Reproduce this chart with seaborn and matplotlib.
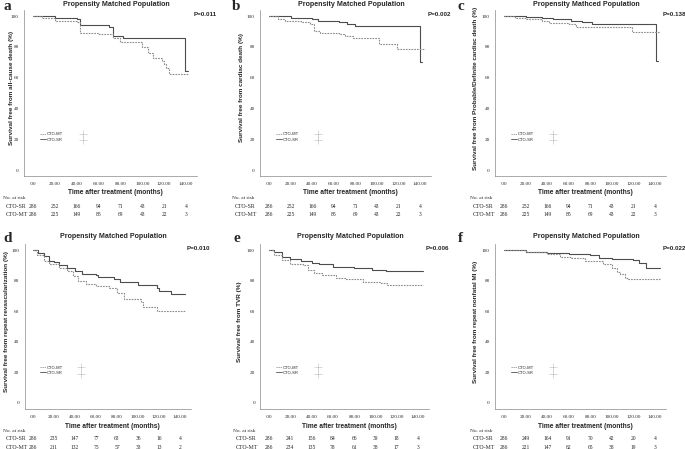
"""Kaplan-Meier panels (a-f) for CTO-SR vs CTO-MT, propensity matched population."""

import matplotlib

matplotlib.use("Agg")
import matplotlib.pyplot as plt
import matplotlib.transforms as mtransforms
from matplotlib.lines import Line2D
import pandas as pd
import seaborn as sns


MONTH_TICKS = [0, 20, 40, 60, 80, 100, 120, 140]
MONTH_LABELS = [".00", "20.00", "40.00", "60.00", "80.00", "100.00", "120.00", "140.00"]
SURV_TICKS = [0, 20, 40, 60, 80, 100]
GROUPS = ["CTO-SR", "CTO-MT"]

# step points (months, survival %)
A_SR_TIME = [0, 20, 40, 43, 70, 73, 82, 139, 142]
A_SR_SURV = [100, 99, 98, 94.3, 93, 87, 85.6, 64.3, 64.3]
A_MT_TIME = [0, 8, 20, 40, 43, 60, 73, 80, 100, 105, 110, 118, 120, 122, 124, 143]
A_MT_SURV = [100, 98.5, 97, 96, 89, 88, 86, 83, 80, 76, 73, 71, 69, 66, 62.4, 62.4]

B_SR_TIME = [0, 20, 40, 45, 65, 72, 80, 140, 142]
B_SR_SURV = [100, 99, 98, 97, 96, 95, 93.5, 70, 70]
B_MT_TIME = [0, 8, 15, 30, 38, 42, 47, 65, 70, 78, 102, 119, 145]
B_MT_SURV = [100, 98, 97, 96, 95, 90, 89, 88.5, 87, 86, 82, 78.5, 78.5]

C_SR_TIME = [0, 20, 35, 45, 62, 72, 82, 141, 143]
C_SR_SURV = [100, 99.5, 99, 98, 97, 96, 94.6, 70.5, 70.5]
C_MT_TIME = [0, 10, 20, 35, 42, 60, 67, 119, 145]
C_MT_SURV = [100, 99, 98, 96.5, 95.7, 95, 92.8, 89.4, 89.4]

D_SR_TIME = [0, 5, 10, 15, 20, 25, 32, 40, 47, 60, 62, 77, 83, 100, 118, 120, 131, 145]
D_SR_SURV = [100, 98, 96, 93, 92, 90, 88, 86, 84, 83.5, 82.5, 81, 79, 77, 75, 73.5, 71, 71]
D_MT_TIME = [0, 4, 10, 15, 25, 32, 38, 43, 50, 60, 72, 80, 87, 103, 105, 118, 145]
D_MT_SURV = [100, 97, 93, 91, 88, 86, 83, 80, 78, 76.5, 75, 72, 68, 66, 62.6, 60, 60]

E_SR_TIME = [0, 5, 12, 20, 30, 40, 47, 60, 80, 97, 110, 145]
E_SR_SURV = [100, 98.5, 95.6, 94, 92.5, 91.5, 90.7, 89.1, 88, 87, 86.1, 86.1]
E_MT_TIME = [0, 5, 12, 20, 32, 37, 42, 50, 63, 72, 88, 105, 111, 145]
E_MT_SURV = [100, 97, 93.5, 91, 90, 87, 85.2, 83.7, 82, 80.9, 78.9, 78.5, 77, 77]

F_SR_TIME = [0, 20, 40, 60, 80, 88, 100, 120, 125, 132, 145]
F_SR_SURV = [100, 99, 98, 97.5, 96.5, 95, 94.1, 93.3, 91.5, 88, 88]
F_MT_TIME = [0, 20, 40, 52, 62, 75, 92, 100, 105, 108, 112, 115, 145]
F_MT_SURV = [100, 98.5, 97.5, 95.4, 95, 93, 90.9, 88, 85.9, 84.1, 82, 81.1, 81.1]

# numbers at risk at each x tick
ABC_RISK_SR = [286, 252, 166, 94, 71, 43, 21, 4]
ABC_RISK_MT = [286, 225, 149, 85, 69, 43, 22, 3]
D_RISK_SR = [286, 235, 147, 77, 63, 36, 16, 4]
D_RISK_MT = [286, 211, 132, 75, 57, 33, 13, 2]
E_RISK_SR = [286, 241, 156, 84, 66, 39, 18, 4]
E_RISK_MT = [286, 234, 135, 78, 61, 38, 17, 3]
F_RISK_SR = [286, 249, 164, 91, 70, 42, 20, 4]
F_RISK_MT = [286, 221, 147, 82, 65, 38, 19, 3]

LETTERS = ["a", "b", "c", "d", "e", "f"]
TITLES = ["Propensity Matched Population"] * 2 + ["Propensity Mathced Population"] + ["Propensity Matched Population"] * 3
P_VALUES = ["P=0.011", "P=0.002", "P=0.138", "P=0.010", "P=0.006", "P=0.022"]
Y_LABELS = [
    "Survival free from all-cause death (%)",
    "Survival free from cardiac death (%)",
    "Survival free from Probable/Definite cardiac death (%)",
    "Survival free from repeat revascularization (%)",
    "Survival free from TVR (%)",
    "Survival free from repeat nonfatal MI (%)",
]
CURVES = [
    (A_SR_TIME, A_SR_SURV, A_MT_TIME, A_MT_SURV),
    (B_SR_TIME, B_SR_SURV, B_MT_TIME, B_MT_SURV),
    (C_SR_TIME, C_SR_SURV, C_MT_TIME, C_MT_SURV),
    (D_SR_TIME, D_SR_SURV, D_MT_TIME, D_MT_SURV),
    (E_SR_TIME, E_SR_SURV, E_MT_TIME, E_MT_SURV),
    (F_SR_TIME, F_SR_SURV, F_MT_TIME, F_MT_SURV),
]
RISKS = [
    (ABC_RISK_SR, ABC_RISK_MT),
    (ABC_RISK_SR, ABC_RISK_MT),
    (ABC_RISK_SR, ABC_RISK_MT),
    (D_RISK_SR, D_RISK_MT),
    (E_RISK_SR, E_RISK_MT),
    (F_RISK_SR, F_RISK_MT),
]

# layout in pixels: x of .00, x of 140, y of 100, y of 0,
# letter x, risk-table x, y-label x
LAYOUT = [
    (33, 186, 16, 170, 3, 3, 12),
    (269, 420, 16, 170, 232, 232, 241),
    (504, 655, 16, 170, 457, 470, 476),
    (33, 180, 250, 403, 3, 3, 7),
    (269, 418, 250, 403, 233, 233, 240),
    (504, 655, 250, 403, 458, 470, 476),
]
W, H = 685, 449
XMIN, XMAX = -8, 150
YMIN, YMAX = -4, 104
SR_COLOR = "#4d4d4d"
MT_COLOR = "#8c8c8c"
SANS = "Liberation Sans"
SERIF = "Liberation Serif"


def fx(px):
    return px / W


def fy(py):
    return 1 - py / H


def build_frame(sr_t, sr_s, mt_t, mt_s):
    return pd.concat(
        [
            pd.DataFrame({"months": sr_t, "survival": sr_s, "group": "CTO-SR"}),
            pd.DataFrame({"months": mt_t, "survival": mt_s, "group": "CTO-MT"}),
        ],
        ignore_index=True,
    )


def draw_panel(fig, i):
    x0, x140, y100, y0, letter_x, col, ylab_x = LAYOUT[i]
    kx = (x140 - x0) / 140
    ky = (y0 - y100) / 100
    left = x0 + XMIN * kx
    right = x0 + XMAX * kx
    top = y100 - (YMAX - 100) * ky
    bottom = y0 - YMIN * ky
    ax = fig.add_axes([fx(left), fy(bottom), fx(right - left), (bottom - top) / H])

    df = build_frame(*CURVES[i])
    sns.lineplot(
        data=df, x="months", y="survival", hue="group", style="group",
        hue_order=GROUPS, style_order=GROUPS,
        palette={"CTO-SR": SR_COLOR, "CTO-MT": MT_COLOR},
        dashes={"CTO-SR": "", "CTO-MT": (1.5, 1.0)},
        drawstyle="steps-post", linewidth=0.8, estimator=None, legend=False, ax=ax,
    )
    ax.set_xlim(XMIN, XMAX)
    ax.set_ylim(YMIN, YMAX)
    ax.set_xticks(MONTH_TICKS)
    ax.set_xticklabels(MONTH_LABELS, fontfamily=SERIF, fontsize=3.7)
    ax.set_yticks(SURV_TICKS)
    ax.set_yticklabels([str(v) for v in SURV_TICKS], fontfamily=SERIF, fontsize=3.7)
    ax.tick_params(length=2, width=0.4, pad=2, color="#555555")
    ax.set_xlabel("")
    ax.set_ylabel("")
    for side in ["top", "right"]:
        ax.spines[side].set_visible(False)
    for side in ["left", "bottom"]:
        ax.spines[side].set_color("#888888")
        ax.spines[side].set_linewidth(0.5)

    # legend with censor column
    handles = [
        Line2D([], [], color=MT_COLOR, lw=0.6, dashes=(1.5, 1.0)),
        Line2D([], [], color=SR_COLOR, lw=0.6),
    ]
    ax.legend(handles, ["CTO-MT", "CTO-SR"], loc="center left", bbox_to_anchor=(0.07, 0.235),
              frameon=False, handlelength=1.4, handletextpad=0.2, labelspacing=0.3,
              prop={"family": SANS, "size": 3})
    for yy in (0.255, 0.215):
        ax.plot([0.34], [yy], marker="+", color="#bbbbbb", markersize=6, mew=0.4,
                transform=ax.transAxes, clip_on=False)

    title_y = 5 if i < 3 else 237
    fig.text(fx((left + right) / 2 + 6), fy(title_y), TITLES[i], ha="center", va="center",
             fontfamily=SANS, fontweight="bold", fontsize=5.1)
    fig.text(fx(letter_x), fy(title_y + 2), LETTERS[i], ha="left", va="center",
             fontfamily=SERIF, fontweight="bold", fontsize=11)
    fig.text(fx(right + 20), fy(y100 - 1), P_VALUES[i], ha="right", va="center",
             fontfamily=SANS, fontweight="bold", fontsize=4.5)
    fig.text(fx(ylab_x), fy((y100 + y0) / 2 - 5), Y_LABELS[i], ha="center", va="center",
             rotation=90, fontfamily=SANS, fontweight="bold", fontsize=4.6)
    fig.text(fx(x0 + 70 * kx + 6), fy(y0 + 23), "Time after treatment (months)", ha="center",
             va="center", fontfamily=SANS, fontweight="bold", fontsize=4.8)

    # number at risk table
    trans = mtransforms.blended_transform_factory(ax.transData, fig.transFigure)
    fig.text(fx(col), fy(y0 + 28), "No. at risk", ha="left", va="center",
             fontfamily=SERIF, fontsize=3.8)
    sr_risk, mt_risk = RISKS[i]
    for k, (name, vals) in enumerate([("CTO-SR", sr_risk), ("CTO-MT", mt_risk)]):
        yy = fy(y0 + 36 + 8.5 * k)
        fig.text(fx(col + 3), yy, name, ha="left", va="center", fontfamily=SERIF, fontsize=4.2)
        for t, v in zip(MONTH_TICKS, vals):
            ax.text(t, yy, str(v), transform=trans, ha="center", va="center",
                    fontfamily=SERIF, fontsize=4.0)


def main():
    sns.set_theme(style="white")
    plt.rcParams["font.family"] = [SANS, "DejaVu Sans"]
    fig = plt.figure(figsize=(W / 100, H / 100), dpi=100)
    for i in range(6):
        draw_panel(fig, i)
    fig.savefig("out.png", dpi=100)
    plt.close(fig)


if __name__ == "__main__":
    main()
